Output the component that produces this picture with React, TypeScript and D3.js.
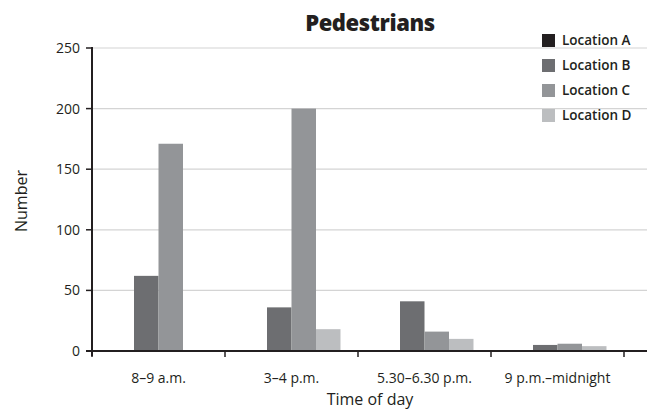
import React from 'react';
import * as d3 from 'd3';

const periods = ['8–9 a.m.', '3–4 p.m.', '5.30–6.30 p.m.', '9 p.m.–midnight'];
const locations = ['Location A', 'Location B', 'Location C', 'Location D'];
const locationA = [0, 0, 0, 0];
const locationB = [62, 36, 41, 5];
const locationC = [171, 200, 16, 6];
const locationD = [0, 18, 10, 4];
const colors = ['#231f20', '#6d6e71', '#939598', '#bcbec0'];
const yTicks = [0, 50, 100, 150, 200, 250];

const W = 653;
const H = 412;
const m = { left: 92, right: 29, top: 48, bottom: 61 };
const font = "'Open Sans', 'Noto Sans', sans-serif";

const App = () => {
  const series = [locationA, locationB, locationC, locationD];
  const x = d3.scaleBand<string>().domain(periods).range([m.left, 624]).paddingInner(0).paddingOuter(0);
  const inner = d3.scaleBand<string>().domain(locations).range([0, x.bandwidth()]).paddingInner(0).paddingOuter(0.715);
  const y = d3.scaleLinear().domain([0, 250]).range([H - m.bottom, m.top]);
  const right = W - 6;

  return (
    <svg width={W} height={H} style={{ position: 'absolute', left: 0, top: 0 }} fontFamily={font}>
      <rect width={W} height={H} fill="#fff" />
      {yTicks.filter(t => t > 0).map(t => (
        <line key={t} x1={m.left} x2={right} y1={y(t)} y2={y(t)} stroke="#d4d4d4" strokeWidth={1.2} />
      ))}
      {series.map((vals, si) =>
        periods.map((p, pi) => (
          <rect key={`${si}-${pi}`} x={(x(p) ?? 0) + (inner(locations[si]) ?? 0)} width={inner.bandwidth()}
            y={y(vals[pi])} height={y(0) - y(vals[pi])} fill={colors[si]} />
        ))
      )}
      {/* y axis */}
      <line x1={m.left} x2={m.left} y1={y(250) - 1} y2={y(0) + 5} stroke="#231f20" strokeWidth={2} />
      {yTicks.map(t => (
        <g key={t}>
          <line x1={m.left - 6} x2={m.left} y1={y(t)} y2={y(t)} stroke="#231f20" strokeWidth={1.5} />
          <text x={m.left - 12} y={y(t)} dy="0.35em" textAnchor="end" fontSize={14} fontWeight={500} fill="#231f20">{t}</text>
        </g>
      ))}
      {/* x axis */}
      <line x1={m.left - 6} x2={right} y1={y(0)} y2={y(0)} stroke="#231f20" strokeWidth={2} />
      {[...periods.map(p => x(p) ?? 0), 624].map((v, i) => (
        <line key={i} x1={v} x2={v} y1={y(0)} y2={y(0) + 6} stroke="#231f20" strokeWidth={1.5} />
      ))}
      {periods.map(p => (
        <text key={p} x={(x(p) ?? 0) + x.bandwidth() / 2} y={383} textAnchor="middle" fontSize={14} fontWeight={500} fill="#231f20">{p}</text>
      ))}
      <text x={370} y={405} textAnchor="middle" fontSize={16} fontWeight={500} fill="#231f20">Time of day</text>
      <text transform="translate(27,201) rotate(-90)" textAnchor="middle" fontSize={16} fontWeight={500} fill="#231f20">Number</text>
      <text x={370} y={31} textAnchor="middle" fontSize={22} fontWeight={800} letterSpacing={-0.4} fill="#231f20">Pedestrians</text>
      {locations.map((l, i) => (
        <g key={l} transform={`translate(542,${34 + i * 25})`}>
          <rect width={13} height={13} fill={colors[i]} />
          <text x={20} y={6.5} dy="0.35em" fontSize={13.5} fontWeight={600} fill="#231f20">{l}</text>
        </g>
      ))}
    </svg>
  );
};

export default App;
